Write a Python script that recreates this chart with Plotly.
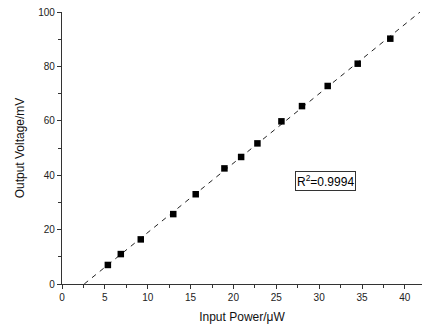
import numpy as np
import plotly.graph_objects as go

power_uW = [5.35, 6.86, 9.19, 12.98, 15.6, 18.95, 20.9, 22.8, 25.6, 28.0, 31.0, 34.5, 38.3]
voltage_mV = [7.0, 11.0, 16.4, 25.7, 33.0, 42.5, 46.7, 51.7, 59.8, 65.4, 72.8, 81.0, 90.2]
r2_text = "R<sup>2</sup>=0.9994"
x_range = [0, 42]
y_range = [0, 100]

slope, intercept = np.polyfit(power_uW, voltage_mV, 1)
x0 = -intercept / slope
x1 = min(x_range[1], (y_range[1] - intercept) / slope)
fit_x = [x0, x1]
fit_y = [slope * x0 + intercept, slope * x1 + intercept]

fig = go.Figure()
fig.add_trace(go.Scatter(x=fit_x, y=fit_y, mode="lines",
                         line=dict(color="#222", width=1, dash="5px,5px"),
                         showlegend=False, hoverinfo="skip"))
fig.add_trace(go.Scatter(x=power_uW, y=voltage_mV, mode="markers",
                         marker=dict(symbol="square", size=6.5, color="black"),
                         showlegend=False))

fig.add_annotation(x=30.7, y=37.7, xref="x", yref="y", text=r2_text,
                   showarrow=False, font=dict(family="Liberation Sans, Arial", size=12, color="black"),
                   bordercolor="#333", borderwidth=1, borderpad=1, bgcolor="white")

axis_common = dict(showline=True, linecolor="#333", linewidth=1.2, ticks="outside",
                   ticklen=4, tickcolor="#333", showgrid=False, zeroline=False,
                   tickfont=dict(family="Liberation Sans, Arial", size=10, color="#222"),
                   minor=dict(ticks="outside", ticklen=2.5, tickcolor="#333"))

fig.update_xaxes(range=x_range, dtick=5, minor_dtick=2.5,
                 title=dict(text="Input Power/μW", standoff=10,
                            font=dict(family="Liberation Sans, Arial", size=12, color="#111")),
                 **axis_common)
fig.update_yaxes(range=y_range, dtick=20, minor_dtick=10,
                 title=dict(text="Output Voltage/mV", standoff=11,
                            font=dict(family="Liberation Sans, Arial", size=12, color="#111")),
                 **axis_common)

fig.update_layout(width=424, height=329, margin=dict(l=62, r=2, t=12, b=45),
                  plot_bgcolor="white", paper_bgcolor="white")
fig.write_html("out.html")
